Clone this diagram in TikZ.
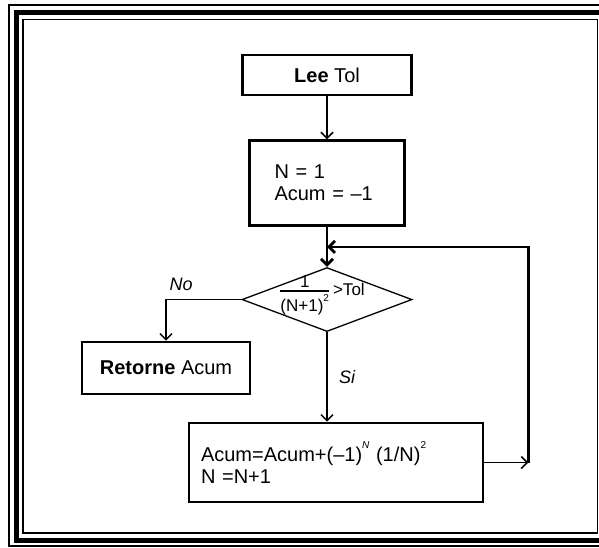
\documentclass[tikz,border=0pt]{standalone}
\usepackage{fontspec}
\setmainfont{Liberation Sans}
\usepackage{amsmath}
\usetikzlibrary{arrows.meta, positioning, shapes.geometric}

\newcommand{\tinysup}[1]{\raisebox{1.2ex}{\fontsize{10}{10}\selectfont #1}}

\begin{document}
\begin{tikzpicture}[
    x=1pt, y=-1pt,
    node distance=40pt,
    block/.style={draw, rectangle, line width=2.6pt, minimum height=40pt,
                  font=\fontsize{20}{22}\selectfont, align=center},
    decision/.style={draw, diamond, line width=1.3pt, minimum width=170pt,
                     minimum height=64pt, inner sep=0pt},
    arrow/.style={-{Straight Barb[length=6pt, width=12pt]}, line width=1.5pt},
    heavy/.style={line width=2.8pt},
    note/.style={font=\fontsize{18}{20}\selectfont\itshape}
]
\useasboundingbox (0,0) rectangle (599,548);

% Page frame
\begin{scope}
  \clip (0,0) rectangle (599,548);
  \draw[line width=1.5pt] (9,5) rectangle (620,546);
  \draw[line width=5pt] (16.5,13) rectangle (620,540);
  \draw[line width=1.8pt] (23,19.5) rectangle (597.5,533);
\end{scope}

% Nodes
\node[block, minimum width=169pt] (lee) at (327,75) {\textbf{Lee} Tol};
\node[block, below=43pt of lee, minimum height=85pt, text width=105pt,
      inner xsep=25pt, align=left] (init) {N = 1\\Acum = --1};
\node[decision, below=40pt of init] (test) {};
\node[inner sep=0pt, font=\fontsize{17}{18}\selectfont] (cond)
     at ([xshift=-5pt, yshift=4pt]test.center)
     {$\genfrac{}{}{2.2pt}{1}{\mbox{1}}{\mbox{(N+1)\tinysup{2}}}$\,{>}Tol};
\node[block, minimum width=168pt, minimum height=52pt] (ret) at (166,368)
     {\textbf{Retorne} Acum};
\node[block, minimum height=79pt, text width=270pt, inner xsep=12pt,
      align=left] (upd) at (336,462.5)
     {Acum=Acum+(--1)\tinysup{\itshape N} (1/N)\tinysup{2}\\N =N+1};

\coordinate[below=20pt of init.south] (join);
\coordinate[right=44pt of upd.east] (loopr);

% Arrows
\draw[arrow] (lee) -- (init);
\draw[heavy] (init) -- (join);
\draw[arrow, heavy] (join) -- (test.north);
\draw[arrow] (test.west) -| node[note, above=5pt, pos=0.4] {No} (ret.north);
\draw[arrow] (test.south) -- node[note, right=8pt] {Si} (test.south |- upd.north);
\draw[arrow] (upd.east) -- (loopr);
\draw[arrow, heavy] (loopr) |- (join);

\end{tikzpicture}
\end{document}
